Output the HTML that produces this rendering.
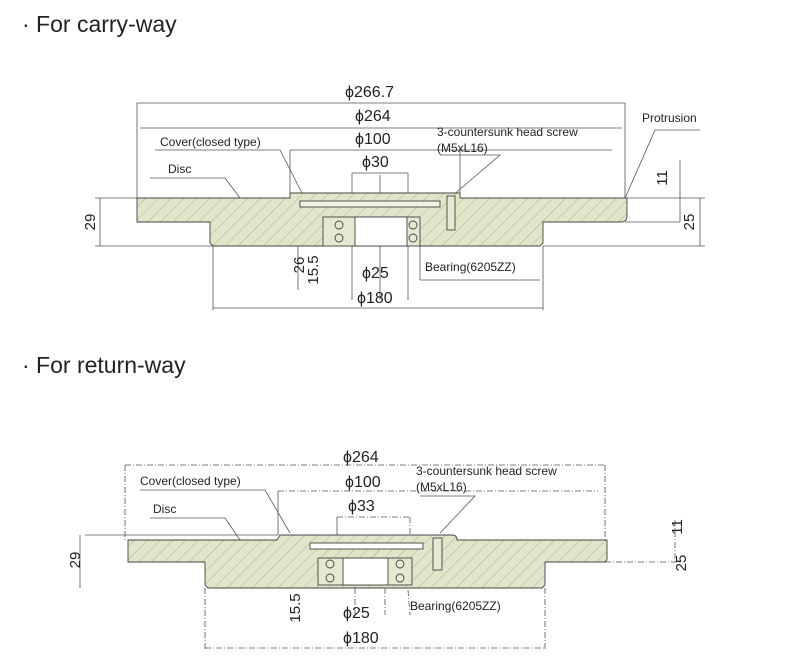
<!DOCTYPE html>
<html><head><meta charset="utf-8"><style>
html,body{margin:0;padding:0;background:#fff;}
svg{display:block;}
text{font-family:"Liberation Sans","Noto Sans CJK JP",sans-serif;fill:#222;}
</style></head><body>
<svg width="793" height="667" viewBox="0 0 793 667" xmlns="http://www.w3.org/2000/svg">
<defs>
<pattern id="h" width="9" height="9" patternUnits="userSpaceOnUse" patternTransform="rotate(45)">
<rect width="9" height="9" fill="#dfe6c9"/>
<line x1="0" y1="0" x2="0" y2="9" stroke="#9aa384" stroke-width="0.8"/>
</pattern>
</defs>
<text x="22" y="32" font-size="23">· For carry-way</text>
<text x="22" y="373" font-size="23">· For return-way</text>

<!-- TOP DRAWING -->
<g stroke="#555" stroke-width="0.8" fill="none">
<line x1="137" y1="103" x2="625" y2="103"/>
<line x1="137" y1="103" x2="137" y2="198"/>
<line x1="625" y1="103" x2="625" y2="198"/>
<line x1="140" y1="128" x2="622" y2="128"/>
<line x1="290" y1="150" x2="612" y2="150"/>
<line x1="290" y1="150" x2="290" y2="193"/>
<line x1="460" y1="150" x2="460" y2="193"/>
<line x1="352" y1="173" x2="408" y2="173"/>
<line x1="352" y1="173" x2="352" y2="300"/>
<line x1="408" y1="173" x2="408" y2="300"/>
<line x1="380" y1="175" x2="380" y2="300"/>
<line x1="95" y1="198" x2="137" y2="198"/>
<line x1="95" y1="246" x2="213" y2="246"/>
<line x1="100" y1="198" x2="100" y2="246"/>
<line x1="543" y1="246" x2="705" y2="246"/>
<line x1="625" y1="222" x2="680" y2="222"/>
<line x1="625" y1="198" x2="705" y2="198"/>
<line x1="680" y1="160" x2="680" y2="222"/>
<line x1="700" y1="198" x2="700" y2="246"/>
<line x1="213" y1="246" x2="213" y2="310"/>
<line x1="543" y1="246" x2="543" y2="310"/>
<line x1="213" y1="308" x2="543" y2="308"/>
<line x1="298" y1="246" x2="298" y2="290"/>
<line x1="420" y1="246" x2="420" y2="280"/>
<line x1="420" y1="280" x2="540" y2="280"/>
<!-- leaders -->
<polyline points="150,178 225,178 240,198"/>
<polyline points="155,150 280,150 302,193"/>
<polyline points="440,155 500,155 452,196"/>
<polyline points="700,130 655,130 622,205"/>
</g>
<g stroke="#444" stroke-width="0.9">
<path d="M137,198 H290 V193 H460 V198 H627 V216 Q627,222 621,222 H543 V243 L540,246 H213 L210,243 V222 H137 Z" fill="url(#h)"/>
<rect x="300" y="201" width="140" height="6" fill="#eef2e0"/>
<rect x="323" y="217" width="97" height="29" fill="#e4ead2"/>
<rect x="355" y="217" width="52" height="29" fill="#fff"/>
<circle cx="339" cy="225" r="4" fill="none"/>
<circle cx="339" cy="238" r="4" fill="none"/>
<circle cx="413" cy="225" r="4" fill="none"/>
<circle cx="413" cy="238" r="4" fill="none"/>
<rect x="447" y="196" width="8" height="34" fill="#e4ead2"/>
</g>
<g font-size="14">
<text x="345" y="97" font-size="16">ϕ266.7</text>
<text x="355" y="121" font-size="16">ϕ264</text>
<text x="355" y="144" font-size="16">ϕ100</text>
<text x="362" y="167" font-size="16">ϕ30</text>
<text x="160" y="146" font-size="12">Cover(closed type)</text>
<text x="168" y="173" font-size="12">Disc</text>
<text x="437" y="136" font-size="12">3-countersunk head screw</text>
<text x="437" y="152" font-size="12">(M5xL16)</text>
<text x="642" y="122" font-size="12">Protrusion</text>
<text x="362" y="278" font-size="16">ϕ25</text>
<text x="357" y="303" font-size="16">ϕ180</text>
<text x="425" y="271" font-size="12">Bearing(6205ZZ)</text>
<text transform="translate(95,222) rotate(-90)" font-size="15" text-anchor="middle">29</text>
<text transform="translate(694,222) rotate(-90)" font-size="15" text-anchor="middle">25</text>
<text transform="translate(667,178) rotate(-90)" font-size="15" text-anchor="middle">11</text>
<text transform="translate(304,265) rotate(-90)" font-size="15" text-anchor="middle">26</text>
<text transform="translate(318,270) rotate(-90)" font-size="15" text-anchor="middle">15.5</text>
</g>

<!-- BOTTOM DRAWING -->
<g stroke="#555" stroke-width="0.8" fill="none" stroke-dasharray="6,2,1,2">
<line x1="125" y1="465" x2="605" y2="465"/>
<line x1="125" y1="465" x2="125" y2="540"/>
<line x1="605" y1="465" x2="605" y2="562"/>
<line x1="278" y1="491" x2="598" y2="491"/>
<line x1="337" y1="517" x2="410" y2="517"/>
<line x1="410" y1="517" x2="410" y2="540"/>
<line x1="205" y1="588" x2="205" y2="650"/>
<line x1="545" y1="588" x2="545" y2="650"/>
<line x1="205" y1="648" x2="545" y2="648"/>
<line x1="605" y1="562" x2="680" y2="562"/>
<line x1="675" y1="520" x2="675" y2="562"/>
<line x1="355" y1="588" x2="355" y2="615"/>
<line x1="385" y1="588" x2="385" y2="615"/>
<line x1="408" y1="590" x2="410" y2="615"/>
</g>
<g stroke="#555" stroke-width="0.8" fill="none">
<line x1="85" y1="535" x2="278" y2="535"/>
<line x1="80" y1="535" x2="80" y2="588"/>
<line x1="278" y1="491" x2="278" y2="535"/>
<line x1="337" y1="517" x2="337" y2="545"/>
<polyline points="140,490 265,490 290,533"/>
<polyline points="150,518 225,518 240,540"/>
<polyline points="420,496 475,496 440,533"/>
</g>
<g stroke="#444" stroke-width="0.9">
<path d="M128,540 H277 L280,535 H452 Q457,535 457,540 H607 V560 L605,562 H545 V585 L542,588 H208 L205,585 V562 H128 Z" fill="url(#h)"/>
<rect x="310" y="543" width="113" height="6" fill="#fff"/>
<rect x="318" y="558" width="94" height="27" fill="#e4ead2"/>
<rect x="343" y="558" width="45" height="27" fill="#fff"/>
<circle cx="330" cy="564" r="4" fill="none"/>
<circle cx="330" cy="578" r="4" fill="none"/>
<circle cx="400" cy="564" r="4" fill="none"/>
<circle cx="400" cy="578" r="4" fill="none"/>
<rect x="433" y="538" width="9" height="32" fill="#e4ead2"/>
</g>
<g>
<text x="343" y="462" font-size="16">ϕ264</text>
<text x="345" y="487" font-size="16">ϕ100</text>
<text x="348" y="511" font-size="16">ϕ33</text>
<text x="140" y="485" font-size="12">Cover(closed type)</text>
<text x="153" y="513" font-size="12">Disc</text>
<text x="416" y="475" font-size="12">3-countersunk head screw</text>
<text x="416" y="491" font-size="12">(M5xL16)</text>
<text x="343" y="618" font-size="16">ϕ25</text>
<text x="343" y="643" font-size="16">ϕ180</text>
<text x="410" y="610" font-size="12">Bearing(6205ZZ)</text>
<text transform="translate(80,560) rotate(-90)" font-size="15" text-anchor="middle">29</text>
<text transform="translate(686,563) rotate(-90)" font-size="15" text-anchor="middle">25</text>
<text transform="translate(682,527) rotate(-90)" font-size="15" text-anchor="middle">11</text>
<text transform="translate(300,608) rotate(-90)" font-size="15" text-anchor="middle">15.5</text>
</g>
</svg>
</body></html>
